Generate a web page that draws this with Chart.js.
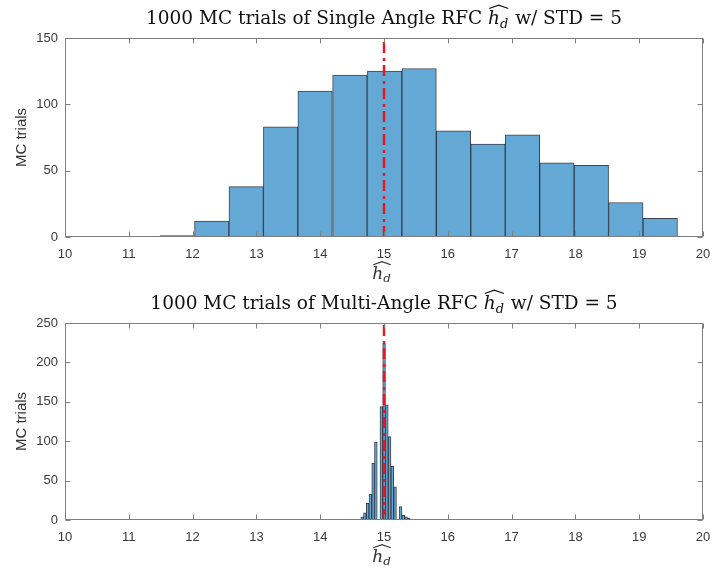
<!DOCTYPE html>
<html>
<head>
<meta charset="utf-8">
<script src="https://cdn.jsdelivr.net/npm/chart.js@4.4.1/dist/chart.umd.min.js"></script>
<style>
  html, body { margin: 0; padding: 0; background: #fff; }
  #wrap { position: relative; width: 710px; height: 573px; }
  canvas { position: absolute; left: 0; }
  #single { top: 0; }
  #multi { top: 287px; }
</style>
</head>
<body>
<div id="wrap">
  <canvas id="single" width="710" height="287"></canvas>
  <canvas id="multi" width="710" height="286"></canvas>
</div>
<script>
// Histogram bin edges / counts (1000 Monte Carlo trials each)
const singleEdges = [11.49, 12.03, 12.57, 13.11, 13.65, 14.19, 14.74, 15.28, 15.82, 16.36, 16.90, 17.44, 17.98, 18.52, 19.06, 19.60];
const singleCounts = [1, 12, 38, 83, 110, 122, 125, 127, 80, 70, 77, 56, 54, 26, 14];

const multiEdges = [14.593, 14.636, 14.679, 14.722, 14.765, 14.808, 14.851, 14.894, 14.937, 14.980, 15.023,
                    15.066, 15.109, 15.152, 15.195, 15.238, 15.281, 15.324, 15.367, 15.410, 15.453];
const multiCounts = [1, 4, 9, 21, 33, 72, 99, 0, 144, 224, 146, 106, 68, 42, 0, 17, 6, 4, 2, 1];

const xRange = [10, 20];
const trueHd = 15;   // true value, dash-dot marker

const TICK_FONT = { family: '"Liberation Sans", Arial, sans-serif', size: 13 };
const SERIF = '"DejaVu Serif", "Liberation Serif", serif';

// widehat h with subscript d, drawn left-aligned at baseline y
function hdWidth(ctx, size) {
  ctx.font = `italic ${size}px ${SERIF}`;
  const wh = ctx.measureText('h').width;
  ctx.font = `italic ${size * 0.7}px ${SERIF}`;
  const wd = ctx.measureText('d').width;
  return wh + wd + 1;
}
function drawHd(ctx, x, y, size) {
  ctx.font = `italic ${size}px ${SERIF}`;
  ctx.fillText('h', x, y);
  const wh = ctx.measureText('h').width;
  ctx.font = `italic ${size * 0.7}px ${SERIF}`;
  ctx.fillText('d', x + wh, y + size * 0.2);
  const wd = ctx.measureText('d').width;
  // the wide hat over both glyphs
  const x0 = x + 1, x1 = x + wh + wd;
  const base = y - size * 0.84, peak = y - size * 1.02;
  ctx.beginPath();
  ctx.moveTo(x0, base);
  ctx.lineTo((x0 + x1) / 2, peak);
  ctx.lineTo(x1, base);
  ctx.lineWidth = size * 0.06;
  ctx.stroke();
}

const frame = {
  id: 'frame',
  afterDatasetsDraw(chart) {
    const { ctx, chartArea: a, scales: { x, y } } = chart;
    const L = Math.round(a.left) + 0.5, R = Math.round(a.right) - 0.5;
    const T = Math.round(a.top) + 0.5, B = Math.round(a.bottom) - 0.5;
    ctx.save();
    ctx.strokeStyle = '#7f7f7f';
    ctx.lineWidth = 1;
    ctx.strokeRect(L, T, R - L, B - T);
    ctx.beginPath();
    x.ticks.forEach(t => {
      const px = Math.round(x.getPixelForValue(t.value)) + 0.5;
      ctx.moveTo(px, B); ctx.lineTo(px, B - 5);
      ctx.moveTo(px, T); ctx.lineTo(px, T + 5);
    });
    y.ticks.forEach(t => {
      const py = Math.round(y.getPixelForValue(t.value)) + 0.5;
      ctx.moveTo(L, py); ctx.lineTo(L + 5, py);
      ctx.moveTo(R, py); ctx.lineTo(R - 5, py);
    });
    ctx.stroke();
    ctx.restore();
  },
  afterDraw(chart, args, opts) {
    const { ctx, chartArea: a } = chart;
    const cx = (a.left + a.right) / 2;
    ctx.save();
    ctx.fillStyle = '#111';
    ctx.strokeStyle = '#111';
    ctx.textBaseline = 'alphabetic';
    ctx.textAlign = 'left';
    // title
    const s = opts.titleSize;
    ctx.font = `${s}px ${SERIF}`;
    const w1 = ctx.measureText(opts.lead).width;
    const w2 = ctx.measureText(opts.tail).width;
    const wm = hdWidth(ctx, s);
    let tx = cx - (w1 + wm + w2) / 2;
    const ty = a.top - 14;
    ctx.font = `${s}px ${SERIF}`;
    ctx.fillText(opts.lead, tx, ty);
    drawHd(ctx, tx + w1, ty, s);
    ctx.font = `${s}px ${SERIF}`;
    ctx.fillText(opts.tail, tx + w1 + wm, ty);
    // x axis label
    ctx.fillStyle = '#333';
    ctx.strokeStyle = '#333';
    const ls = 17;
    const lw = hdWidth(ctx, ls);
    drawHd(ctx, cx - lw / 2 - 2, a.bottom + 42, ls);
    ctx.restore();
  }
};

function centers(edges) {
  return edges.slice(0, -1).map((e, i) => (e + edges[i + 1]) / 2);
}

function makeHist(id, edges, counts, yMax, padTop, xAxisH, lead) {
  const c = centers(edges);
  return new Chart(document.getElementById(id), {
    type: 'bar',
    data: {
      datasets: [
        {
          type: 'line',
          data: [{ x: trueHd, y: 0 }, { x: trueHd, y: yMax }],
          borderColor: 'rgb(232,24,32)',
          borderWidth: 2.5,
          borderDash: [11, 4, 3, 5],
          pointRadius: 0,
          order: 0,
        },
        {
          data: c.map((v, i) => ({ x: v, y: counts[i] })),
          backgroundColor: 'rgb(100,168,214)',
          borderColor: 'rgba(25,35,50,0.85)',
          borderWidth: 1,
          borderSkipped: false,
          barPercentage: 1,
          categoryPercentage: 1,
          order: 1,
        },
      ],
    },
    options: {
      responsive: false,
      animation: false,
      devicePixelRatio: 1,
      layout: { padding: { left: 0, right: 7, top: padTop, bottom: 0 } },
      plugins: {
        legend: { display: false },
        tooltip: { enabled: false },
        frame: { lead, tail: ' w/ STD = 5', titleSize: 18.5 },
      },
      scales: {
        x: {
          type: 'linear', offset: false, min: xRange[0], max: xRange[1],
          grid: { display: false, drawTicks: false },
          border: { display: false },
          ticks: { stepSize: 1, color: '#3a3a3a', font: TICK_FONT, padding: 10, maxRotation: 0 },
          afterFit: s => { s.height = xAxisH; s.paddingLeft = 0; s.paddingRight = 0; },
        },
        y: {
          min: 0, max: yMax,
          grid: { display: false, drawTicks: false },
          border: { display: false },
          ticks: { stepSize: 50, color: '#3a3a3a', font: TICK_FONT, padding: 7 },
          title: { display: true, text: 'MC trials', color: '#333', font: { family: TICK_FONT.family, size: 15 }, padding: { top: 13, bottom: 0 } },
          afterFit: s => { s.width = 65; s.paddingTop = 0; s.paddingBottom = 0; },
        },
      },
    },
    plugins: [frame],
  });
}

makeHist('single', singleEdges, singleCounts, 150, 38, 50, '1000 MC trials of Single Angle RFC ');
makeHist('multi', multiEdges, multiCounts, 250, 36, 53, '1000 MC trials of Multi-Angle RFC ');
</script>
</body>
</html>
